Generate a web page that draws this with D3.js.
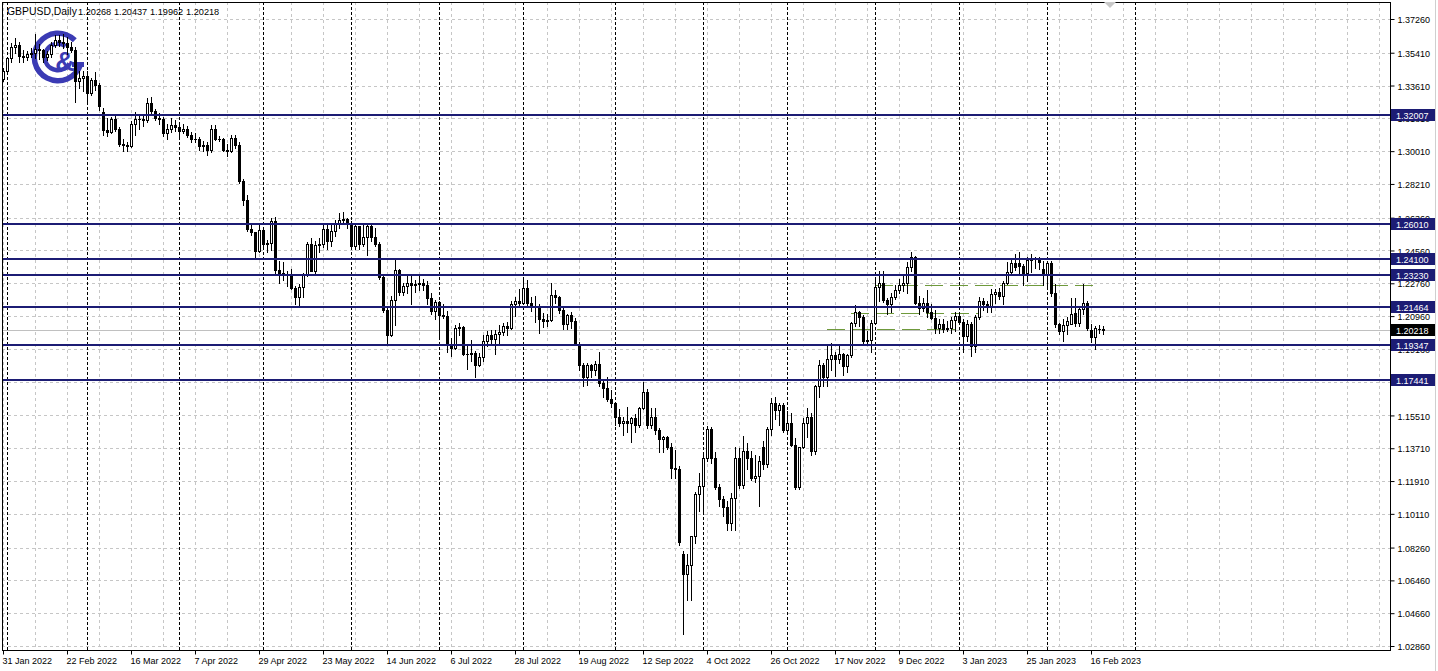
<!DOCTYPE html>
<html><head><meta charset="utf-8">
<script src="https://cdn.jsdelivr.net/npm/d3@7"></script>
<style>
html,body{margin:0;padding:0;background:#fff;overflow:hidden;}
svg{display:block;}
text{font-family:"Liberation Sans",Arial,sans-serif;font-size:9px;}
</style></head><body>
<svg id="c" width="1438" height="671"></svg>
<script>
// ---------------- DATA ----------------
const symbolLabel = "GBPUSD,Daily";
const headerValues = ["1.20268", "1.20437", "1.19962", "1.20218"];
const firstDate = "2022-01-31";
const lastDate = "2023-02-21";
const holidays = ["2022-12-26"];
const futureSeparatorBars = [283];

const open = [
1.3395,1.3440,1.3510,1.3570,1.3585,1.3525,1.3520,1.3535,1.3540,1.3560,
1.3555,1.3520,1.3535,1.3585,1.3610,1.3600,1.3595,1.3570,1.3555,1.3385,
1.3405,1.3415,1.3320,1.3390,1.3365,1.3215,1.3115,1.3105,1.3180,1.3125,
1.3040,1.3035,1.3030,1.3150,1.3175,1.3180,1.3170,1.3265,1.3220,1.3185,
1.3180,1.3100,1.3125,1.3145,1.3135,1.3110,1.3120,1.3090,1.3070,1.3070,
1.3030,1.3035,1.3005,1.3125,1.3070,1.3065,1.3010,1.3000,1.3075,1.3035,
1.2835,1.2735,1.2575,1.2555,1.2455,1.2570,1.2490,1.2495,1.2620,1.2350,
1.2335,1.2325,1.2320,1.2250,1.2200,1.2255,1.2320,1.2490,1.2345,1.2485,
1.2490,1.2575,1.2510,1.2565,1.2605,1.2625,1.2630,1.2600,1.2480,1.2590,
1.2490,1.2530,1.2590,1.2530,1.2490,1.2310,1.2130,1.1995,1.2185,1.2350,
1.2230,1.2260,1.2275,1.2265,1.2270,1.2280,1.2265,1.2195,1.2125,1.2175,
1.2100,1.2095,1.1945,1.1920,1.2030,1.2035,1.1890,1.1890,1.1895,1.1830,
1.1870,1.1960,1.1990,1.1970,1.2000,1.2010,1.2040,1.2030,1.2160,1.2180,
1.2170,1.2250,1.2170,1.2150,1.2145,1.2080,1.2070,1.2075,1.2210,1.2200,
1.2130,1.2050,1.2100,1.2070,1.1940,1.1830,1.1760,1.1830,1.1800,1.1835,
1.1730,1.1700,1.1640,1.1620,1.1540,1.1510,1.1520,1.1510,1.1535,1.1500,
1.1590,1.1680,1.1500,1.1540,1.1470,1.1420,1.1435,1.1380,1.1265,1.1255,
1.0790,1.0680,1.0730,1.0890,1.1120,1.1165,1.1320,1.1475,1.1320,1.1160,
1.1090,1.1050,1.0960,1.1100,1.1320,1.1170,1.1355,1.1320,1.1210,1.1220,
1.1380,1.1285,1.1475,1.1620,1.1580,1.1610,1.1470,1.1510,1.1390,1.1160,
1.1380,1.1510,1.1540,1.1355,1.1710,1.1830,1.1760,1.1860,1.1885,1.1860,
1.1890,1.1820,1.1880,1.2060,1.2120,1.2090,1.1960,1.1965,1.2060,1.2255,
1.2280,1.2185,1.2160,1.2200,1.2240,1.2265,1.2275,1.2365,1.2420,1.2170,
1.2140,1.2170,1.2120,1.2085,1.2030,1.2050,1.2025,1.2030,1.2075,1.2095,
1.2065,1.1985,1.2055,1.1930,1.2090,1.2180,1.2160,1.2150,1.2215,1.2230,
1.2205,1.2280,1.2340,1.2390,1.2390,1.2370,1.2330,1.2405,1.2415,1.2410,
1.2355,1.2325,1.2390,1.2220,1.2050,1.2015,1.2045,1.2050,1.2115,1.2060,
1.2135,1.2170,1.2020,1.1980,1.2025,1.20268];

const high = [
1.3455,1.3520,1.3595,1.3620,1.3600,1.3555,1.3550,1.3565,1.3645,1.3590,
1.3560,1.3550,1.3600,1.3640,1.3640,1.3645,1.3625,1.3600,1.3570,1.3440,
1.3440,1.3440,1.3405,1.3435,1.3375,1.3240,1.3185,1.3190,1.3195,1.3135,
1.3070,1.3050,1.3165,1.3215,1.3200,1.3200,1.3295,1.3300,1.3230,1.3210,
1.3190,1.3150,1.3185,1.3170,1.3155,1.3150,1.3140,1.3105,1.3100,1.3080,
1.3055,1.3050,1.3145,1.3145,1.3085,1.3075,1.3040,1.3090,1.3090,1.3050,
1.2850,1.2760,1.2605,1.2560,1.2595,1.2580,1.2515,1.2635,1.2640,1.2400,
1.2395,1.2345,1.2355,1.2260,1.2270,1.2330,1.2500,1.2525,1.2510,1.2525,
1.2600,1.2595,1.2600,1.2625,1.2660,1.2665,1.2635,1.2615,1.2600,1.2590,
1.2595,1.2600,1.2600,1.2580,1.2500,1.2320,1.2150,1.2205,1.2405,1.2355,
1.2280,1.2325,1.2315,1.2295,1.2325,1.2300,1.2290,1.2220,1.2185,1.2180,
1.2165,1.2125,1.1975,1.2045,1.2060,1.2040,1.1930,1.1965,1.1905,1.1895,
1.1990,1.2015,1.2020,1.2020,1.2045,1.2060,1.2065,1.2180,1.2200,1.2245,
1.2295,1.2295,1.2200,1.2205,1.2165,1.2115,1.2105,1.2275,1.2240,1.2205,
1.2140,1.2110,1.2120,1.2085,1.1955,1.1840,1.1840,1.1835,1.1850,1.1900,
1.1745,1.1760,1.1690,1.1625,1.1585,1.1540,1.1600,1.1545,1.1560,1.1600,
1.1735,1.1695,1.1590,1.1590,1.1480,1.1440,1.1440,1.1400,1.1360,1.1275,
1.0805,1.0790,1.0890,1.1130,1.1235,1.1345,1.1495,1.1490,1.1350,1.1175,
1.1110,1.1080,1.1125,1.1380,1.1375,1.1440,1.1400,1.1355,1.1335,1.1330,
1.1410,1.1490,1.1645,1.1650,1.1620,1.1620,1.1575,1.1565,1.1425,1.1375,
1.1535,1.1590,1.1565,1.1720,1.1855,1.1840,1.1940,1.1950,1.1900,1.1935,
1.1895,1.1890,1.2065,1.2155,1.2125,1.2100,1.2015,1.2075,1.2310,1.2345,
1.2345,1.2195,1.2225,1.2265,1.2300,1.2325,1.2395,1.2445,1.2425,1.2205,
1.2195,1.2240,1.2165,1.2130,1.2080,1.2080,1.2070,1.2090,1.2120,1.2115,
1.2080,1.2075,1.2065,1.2100,1.2200,1.2195,1.2180,1.2245,1.2245,1.2250,
1.2290,1.2395,1.2405,1.2435,1.2445,1.2380,1.2420,1.2435,1.2420,1.2420,
1.2400,1.2400,1.2400,1.2270,1.2060,1.2080,1.2090,1.2195,1.2195,1.2145,
1.2270,1.2180,1.2050,1.2040,1.2045,1.20437];

const low = [
1.3385,1.3430,1.3490,1.3540,1.3490,1.3490,1.3500,1.3515,1.3510,1.3505,
1.3490,1.3500,1.3520,1.3575,1.3580,1.3565,1.3535,1.3545,1.3270,1.3350,
1.3330,1.3275,1.3310,1.3335,1.3225,1.3090,1.3085,1.3100,1.3110,1.3030,
1.3000,1.3000,1.3025,1.3090,1.3125,1.3140,1.3160,1.3200,1.3170,1.3150,
1.3085,1.3070,1.3105,1.3110,1.3080,1.3100,1.3080,1.3050,1.3050,1.3010,
1.3000,1.2980,1.2995,1.3060,1.3055,1.3000,1.2975,1.2995,1.3020,1.2825,
1.2705,1.2565,1.2540,1.2410,1.2450,1.2465,1.2450,1.2460,1.2325,1.2275,
1.2295,1.2260,1.2245,1.2165,1.2155,1.2200,1.2315,1.2345,1.2335,1.2445,
1.2475,1.2465,1.2480,1.2535,1.2580,1.2610,1.2580,1.2465,1.2465,1.2465,
1.2480,1.2430,1.2510,1.2480,1.2300,1.2120,1.1935,1.1985,1.2045,1.2210,
1.2210,1.2220,1.2160,1.2230,1.2240,1.2240,1.2160,1.2110,1.2080,1.1975,
1.2085,1.1900,1.1875,1.1915,1.1990,1.1880,1.1805,1.1850,1.1760,1.1820,
1.1850,1.1930,1.1935,1.1890,1.1950,1.1990,1.1990,1.2025,1.2095,1.2145,
1.2160,1.2155,1.2125,1.2065,1.2005,1.2035,1.2040,1.2070,1.2170,1.2115,
1.2025,1.2025,1.2030,1.1935,1.1800,1.1715,1.1720,1.1760,1.1775,1.1715,
1.1650,1.1630,1.1600,1.1500,1.1495,1.1445,1.1460,1.1405,1.1460,1.1490,
1.1585,1.1480,1.1480,1.1450,1.1350,1.1350,1.1365,1.1210,1.1210,1.0840,
1.0350,1.0540,1.0540,1.0850,1.1025,1.1025,1.1300,1.1290,1.1145,1.1055,
1.1000,1.0925,1.0925,1.0925,1.1155,1.1155,1.1255,1.1195,1.1185,1.1055,
1.1255,1.1270,1.1445,1.1530,1.1500,1.1460,1.1450,1.1385,1.1145,1.1150,
1.1375,1.1430,1.1335,1.1340,1.1650,1.1710,1.1710,1.1800,1.1765,1.1840,
1.1775,1.1790,1.1870,1.2040,1.2040,1.1945,1.1945,1.1900,1.2055,1.2180,
1.2175,1.2105,1.2120,1.2190,1.2220,1.2235,1.2225,1.2345,1.2160,1.2110,
1.2125,1.2090,1.2080,1.2005,1.2005,1.2010,1.2015,1.2005,1.2015,1.2050,
1.1900,1.1960,1.1875,1.1900,1.2080,1.2130,1.2120,1.2120,1.2170,1.2190,
1.2165,1.2270,1.2330,1.2350,1.2330,1.2265,1.2290,1.2340,1.2360,1.2355,
1.2265,1.2260,1.2205,1.2035,1.2000,1.1960,1.2000,1.2050,1.2040,1.2040,
1.2110,1.2020,1.1955,1.1915,1.2005,1.19962];

const close = [
1.3440,1.3510,1.3570,1.3585,1.3525,1.3520,1.3535,1.3540,1.3560,1.3555,
1.3520,1.3535,1.3585,1.3610,1.3600,1.3595,1.3570,1.3555,1.3385,1.3405,
1.3415,1.3320,1.3390,1.3365,1.3250,1.3115,1.3105,1.3180,1.3125,1.3040,
1.3035,1.3030,1.3150,1.3175,1.3180,1.3170,1.3265,1.3220,1.3185,1.3180,
1.3100,1.3125,1.3145,1.3135,1.3110,1.3120,1.3090,1.3070,1.3070,1.3030,
1.3035,1.3005,1.3125,1.3070,1.3065,1.3010,1.3000,1.3075,1.3035,1.2835,
1.2735,1.2575,1.2555,1.2455,1.2570,1.2490,1.2495,1.2620,1.2350,1.2335,
1.2325,1.2320,1.2250,1.2200,1.2255,1.2320,1.2490,1.2345,1.2485,1.2490,
1.2575,1.2510,1.2565,1.2605,1.2625,1.2630,1.2600,1.2480,1.2590,1.2490,
1.2530,1.2590,1.2530,1.2490,1.2310,1.2130,1.1995,1.2185,1.2350,1.2230,
1.2260,1.2275,1.2265,1.2270,1.2280,1.2265,1.2195,1.2125,1.2175,1.2100,
1.2095,1.1945,1.1920,1.2030,1.2035,1.1890,1.1890,1.1895,1.1830,1.1870,
1.1960,1.1990,1.1970,1.2000,1.2010,1.2040,1.2030,1.2160,1.2180,1.2170,
1.2250,1.2170,1.2150,1.2145,1.2080,1.2070,1.2075,1.2210,1.2200,1.2130,
1.2050,1.2100,1.2070,1.1940,1.1830,1.1760,1.1830,1.1800,1.1835,1.1730,
1.1700,1.1640,1.1620,1.1540,1.1510,1.1520,1.1510,1.1535,1.1500,1.1590,
1.1680,1.1500,1.1540,1.1470,1.1420,1.1435,1.1380,1.1265,1.1255,1.0855,
1.0680,1.0730,1.0890,1.1120,1.1165,1.1320,1.1475,1.1320,1.1160,1.1090,
1.1050,1.0960,1.1100,1.1320,1.1170,1.1355,1.1320,1.1210,1.1220,1.1300,
1.1285,1.1475,1.1620,1.1580,1.1610,1.1470,1.1510,1.1390,1.1160,1.1380,
1.1510,1.1540,1.1355,1.1710,1.1830,1.1760,1.1860,1.1885,1.1860,1.1890,
1.1820,1.1880,1.2060,1.2120,1.2090,1.1960,1.1965,1.2060,1.2255,1.2280,
1.2185,1.2160,1.2200,1.2240,1.2265,1.2275,1.2365,1.2420,1.2170,1.2140,
1.2170,1.2120,1.2085,1.2030,1.2050,1.2025,1.2030,1.2075,1.2095,1.2065,
1.1985,1.2055,1.1930,1.2090,1.2180,1.2160,1.2150,1.2215,1.2230,1.2205,
1.2280,1.2340,1.2385,1.2365,1.2370,1.2330,1.2405,1.2415,1.2410,1.2395,
1.2325,1.2390,1.2220,1.2050,1.2015,1.2045,1.2070,1.2110,1.2060,1.2135,
1.2170,1.2030,1.1980,1.2030,1.2027,1.20218];

const priceTicks = [1.37260,1.35410,1.33610,1.31810,1.30010,1.28210,1.26360,1.24560,1.22760,1.20960,
                    1.19160,1.17360,1.15510,1.13710,1.11910,1.10110,1.08260,1.06460,1.04660,1.02860];
const dateLabels = ["31 Jan 2022","22 Feb 2022","16 Mar 2022","7 Apr 2022","29 Apr 2022","23 May 2022",
  "14 Jun 2022","6 Jul 2022","28 Jul 2022","19 Aug 2022","12 Sep 2022","4 Oct 2022","26 Oct 2022",
  "17 Nov 2022","9 Dec 2022","3 Jan 2023","25 Jan 2023","16 Feb 2023"];
const levelPrices = [1.32007,1.26010,1.24100,1.23230,1.21464,1.19347,1.17441];
const currentPrice = 1.20218;
const dashPrices = [1.2025, 1.2113, 1.2266];
const dashFrom = ["2022-11-15", "2022-11-23", "2022-12-01"];
const dashTo = ["2022-12-30", "2023-01-09", "2023-02-17"];

// ---------------- LAYOUT ----------------
const fmtISO = d3.timeFormat("%Y-%m-%d");
const fmtLbl = d3.timeFormat("%-d %b %Y");
const dates = [];
{
  const d = d3.timeParse("%Y-%m-%d")(firstDate), end = d3.timeParse("%Y-%m-%d")(lastDate);
  for (let t = new Date(d); t <= end; t = d3.timeDay.offset(t, 1)) {
    const w = t.getDay();
    if (w !== 0 && w !== 6 && !holidays.includes(fmtISO(t))) dates.push(new Date(t));
  }
}
const N = dates.length;
const svg = d3.select("#c");
const L = 2, R = 1390, T = 2, B = 650;

const x = d3.scaleLinear().domain([0, N - 1]).range([3, 3 + 4 * (N - 1)]);
const y = d3.scaleLinear().domain([1.0286, 1.3726]).range([646, 19]);
const px = v => Math.round(v) + 0.5;

svg.append("rect").attr("width", 1438).attr("height", 671).attr("fill", "#fff");
svg.append("defs").append("clipPath").attr("id", "clip")
  .append("rect").attr("x", L).attr("y", T).attr("width", R - L).attr("height", B - T);
const plot = svg.append("g").attr("clip-path", "url(#clip)");

// horizontal grid
plot.append("g").selectAll("line").data(priceTicks).join("line")
  .attr("x1", L).attr("x2", R).attr("y1", d => px(y(d))).attr("y2", d => px(y(d)))
  .attr("stroke", "#c6c6c6").attr("stroke-dasharray", "3,3");
// vertical grid every 8 bars (continues into the empty right area)
const gridIdx = d3.range(0, 400, 8);
plot.append("g").selectAll("line").data(gridIdx).join("line")
  .attr("x1", d => px(x(d))).attr("x2", d => px(x(d))).attr("y1", T).attr("y2", B)
  .attr("stroke", "#c6c6c6").attr("stroke-dasharray", "3,3");
// month separators
const monthIdx = d3.range(1, N).filter(i => dates[i].getMonth() !== dates[i - 1].getMonth())
  .concat(futureSeparatorBars);
plot.append("g").selectAll("line").data(monthIdx).join("line")
  .attr("x1", d => px(x(d))).attr("x2", d => px(x(d))).attr("y1", T).attr("y2", B)
  .attr("stroke", "#000").attr("stroke-dasharray", "3,2");

// current price line
plot.append("line").attr("x1", L).attr("x2", R)
  .attr("y1", px(y(currentPrice))).attr("y2", px(y(currentPrice)))
  .attr("stroke", "#c0c0c0");

// green dashed trend levels
const idxOf = s => dates.findIndex(d => fmtISO(d) === s);
plot.append("g").selectAll("line").data(dashPrices).join("line")
  .attr("x1", (d, k) => x(idxOf(dashFrom[k]))).attr("x2", (d, k) => x(idxOf(dashTo[k])))
  .attr("y1", d => px(y(d))).attr("y2", d => px(y(d)))
  .attr("stroke", "#6f9a3c").attr("stroke-dasharray", "18,7");

// logo
const logo = plot.append("g").attr("transform", "translate(58,57)").attr("fill", "#3b3bb4");
const deg = Math.PI / 180;
logo.append("path").attr("d", d3.arc().innerRadius(21).outerRadius(26.5).startAngle(108 * deg).endAngle(405 * deg)());
logo.append("path").attr("d", d3.arc().innerRadius(11).outerRadius(15.5).startAngle(120 * deg).endAngle(395 * deg)());
logo.append("rect").attr("x", 14).attr("y", 5).attr("width", 12).attr("height", 5);
logo.append("text").attr("x", 7).attr("y", 14).attr("text-anchor", "middle")
  .style("font-size", "27px").style("font-weight", "bold").text("&");

// candles
const cg = plot.append("g");
d3.range(N).forEach(i => {
  const c = Math.round(x(i));
  const o = open[i], cl = close[i];
  cg.append("line").attr("x1", c + 0.5).attr("x2", c + 0.5)
    .attr("y1", Math.round(y(high[i]))).attr("y2", Math.round(y(low[i])) + 1)
    .attr("stroke", "#000");
  const yt = Math.round(y(Math.max(o, cl))), yb = Math.round(y(Math.min(o, cl)));
  if (yb - yt < 1) {
    cg.append("line").attr("x1", c - 1).attr("x2", c + 2).attr("y1", yt + 0.5).attr("y2", yt + 0.5).attr("stroke", "#000");
  } else {
    cg.append("rect").attr("x", c - 0.5).attr("y", yt + 0.5).attr("width", 2).attr("height", yb - yt)
      .attr("fill", cl >= o ? "#fff" : "#000").attr("stroke", "#000");
  }
});

// level lines
plot.append("g").selectAll("line").data(levelPrices).join("line")
  .attr("x1", L).attr("x2", R).attr("y1", d => Math.round(y(d))).attr("y2", d => Math.round(y(d)))
  .attr("stroke", "#1c1c74").attr("stroke-width", 2);

// frame
svg.append("rect").attr("x", L + 0.5).attr("y", T + 0.5).attr("width", R - L).attr("height", B - T)
  .attr("fill", "none").attr("stroke", "#000");
svg.append("line").attr("x1", 1435.5).attr("x2", 1435.5).attr("y1", 0).attr("y2", 671).attr("stroke", "#cfcfcf");
svg.append("path").attr("d", "M1104,2 L1116,2 L1110,8 Z").attr("fill", "#c8c8c8");

// price axis
const ay = svg.append("g").attr("transform", `translate(${R + 0.5},0)`)
  .call(d3.axisRight(y).tickValues(priceTicks).tickFormat(d3.format(".5f")).tickSize(4).tickPadding(3));
ay.select(".domain").remove();
ay.selectAll(".tick line").attr("stroke", "#000");
ay.selectAll(".tick text").attr("fill", "#000").style("font-size", "9px").attr("dy", "0.4em")
  .style("font-family", '"Liberation Sans",Arial,sans-serif');

// level tags
const tags = svg.append("g");
levelPrices.forEach(p => {
  const yy = Math.round(y(p));
  tags.append("rect").attr("x", R + 1).attr("y", yy - 6).attr("width", 44).attr("height", 12).attr("fill", "#1c1c74");
  tags.append("text").attr("x", R + 6).attr("y", yy + 3.5).attr("fill", "#fff").text(p.toFixed(5));
});
{
  const yy = Math.round(y(currentPrice));
  tags.append("rect").attr("x", R + 1).attr("y", yy - 6).attr("width", 44).attr("height", 12).attr("fill", "#000");
  tags.append("text").attr("x", R + 6).attr("y", yy + 3.5).attr("fill", "#fff").text(currentPrice.toFixed(5));
}

// time axis
const labelIdx = dateLabels.map(s => dates.findIndex(d => fmtLbl(d) === s));
const ax = svg.append("g").attr("transform", `translate(0,${B + 0.5})`)
  .call(d3.axisBottom(x).tickValues(labelIdx).tickFormat((d, k) => dateLabels[k]).tickSize(4).tickPadding(3));
ax.select(".domain").remove();
ax.selectAll(".tick").attr("transform", d => `translate(${px(x(d))},0)`);
ax.selectAll(".tick line").attr("stroke", "#000");
ax.selectAll(".tick text").attr("fill", "#000").attr("text-anchor", "start").attr("x", -1)
  .style("font-size", "9px").style("font-family", '"Liberation Sans",Arial,sans-serif');

// header
const hdr = svg.append("g");
hdr.append("text").attr("x", 7).attr("y", 15).attr("fill", "#000").style("font-size", "10.4px").text(symbolLabel);
const hx = d3.scalePoint().domain(d3.range(headerValues.length)).range([78, 186]);
hdr.selectAll("text.v").data(headerValues).join("text").attr("class", "v")
  .attr("x", (d, k) => hx(k)).attr("y", 15).attr("fill", "#000").style("font-size", "9.2px").text(d => d);
</script>
</body></html>
